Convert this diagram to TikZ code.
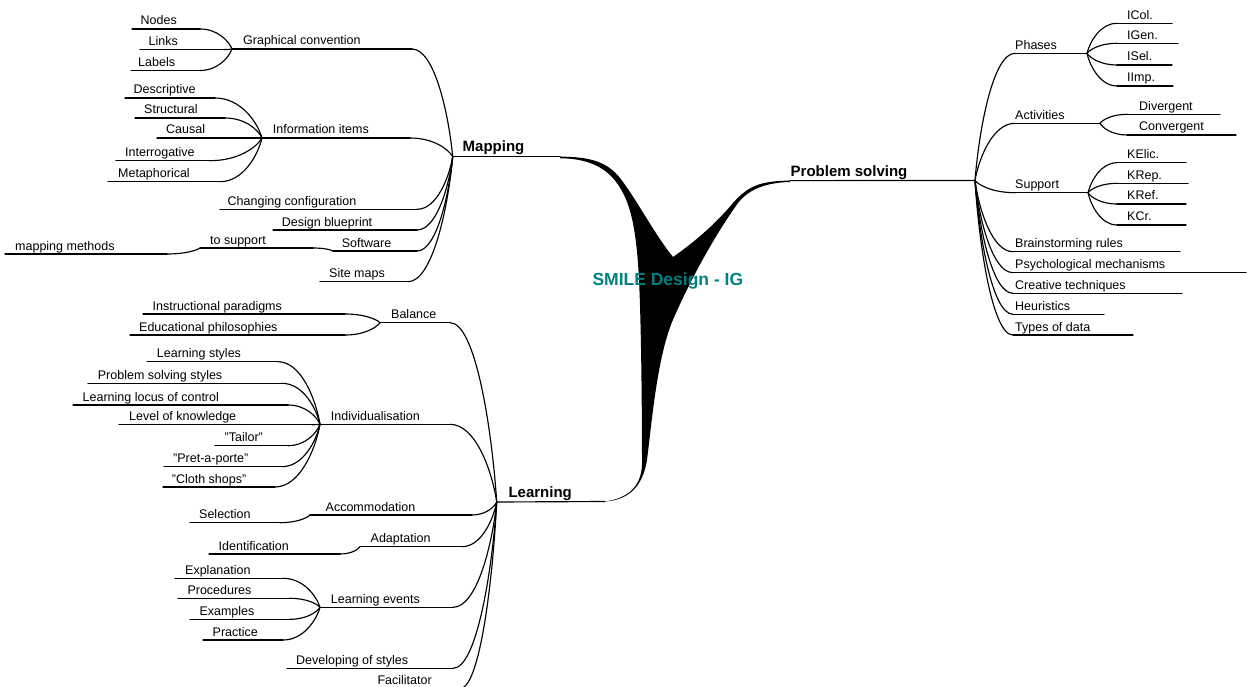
\documentclass[tikz,border=0pt]{standalone}
\usepackage{fontspec}
\setmainfont{Liberation Sans}
\usetikzlibrary{calc}
\definecolor{mmteal}{RGB}{0,128,128}

% one branch item: name, left x, right x, line y, text x, label
\newcommand{\mmleaf}[6]{%
  \coordinate (#1-l) at (#2,#4);
  \coordinate (#1-r) at (#3,#4);
  \draw[rule] (#1-l) -- (#1-r);
  \node[leaf] (#1) at (#5,#4-4) {#6};}

\tikzset{
  rule/.style={line width=1.15pt, line cap=round},
  leaf/.style={font=\fontsize{12.5}{15}\selectfont, inner sep=0pt, anchor=base west},
  topic/.style={font=\fontsize{15}{18}\selectfont\bfseries, inner sep=0pt, anchor=base west},
  centre/.style={font=\fontsize{17.5}{20}\selectfont\bfseries, text=mmteal, inner sep=0pt, anchor=base west},
  link/.style={rule, to path={let \p1=(\tikztostart), \p2=(\tikztotarget) in
    .. controls ({\x1+0.1*(\x2-\x1)},{\y1+0.4*(\y2-\y1)}) and ({\x2-0.55*(\x2-\x1)},\y2) .. (\tikztotarget)}}
}

\begin{document}
\begin{tikzpicture}[x=1pt,y=-1pt]
\useasboundingbox (0,0) rectangle (1247,687);

% ---------- trunk ----------
\coordinate (mapJ) at (452.7,156.7);
\coordinate (mapE) at (560,156.7);
\coordinate (learnJ) at (496.7,502);
\coordinate (learnE) at (605,501.5);
\coordinate (psJ) at (975,180.5);
\coordinate (psE) at (790,180.6);

\fill[black] (mapE) .. controls (592,156.5) and (608,163) .. (620,178)
  .. controls (637,200) and (655,235) .. (673,257)
  .. controls (690,245) and (712,228) .. (733,203)
  .. controls (748,186) and (760,181) .. (psE)
  -- (790,182)
  .. controls (765,182.5) and (748,190) .. (738,203)
  .. controls (715,235) and (690,280) .. (672,322)
  .. controls (657,360) and (652,420) .. (647,460)
  .. controls (643,485) and (630,500) .. (learnE)
  .. controls (630,498) and (641,485) .. (642,465)
  .. controls (642,400) and (641,320) .. (639,280)
  .. controls (637,240) and (633,215) .. (625,197)
  .. controls (614,173) and (596,158.5) .. (560,158.3) -- cycle;

\draw[rule] (mapJ) -- (mapE);
\draw[rule] (learnJ) -- (learnE);
\draw[rule] (psE) -- (psJ);

\node[topic] (mapping) at (462.5,152) {Mapping};
\node[topic] (learning) at (508.3,497.5) {Learning};
\node[topic] (problem) at (790.5,176.5) {Problem solving};
\node[centre] (title) at (592.3,285) {SMILE Design - IG};

% ---------- Mapping ----------
\mmleaf{gc}{232}{412}{49}{243}{Graphical convention}
\mmleaf{nodes}{132}{200}{29}{140.5}{Nodes}
\mmleaf{links}{140}{224}{49.5}{148.5}{Links}
\mmleaf{labels}{131}{200}{70.5}{138}{Labels}
\mmleaf{ii}{262}{410}{138}{272.7}{Information items}
\mmleaf{desc}{125}{215}{98}{133.5}{Descriptive}
\mmleaf{struct}{135}{225}{118}{144}{Structural}
\mmleaf{causal}{157}{254}{138}{166}{Causal}
\mmleaf{interr}{116}{210}{160.7}{125}{Interrogative}
\mmleaf{meta}{108}{220}{181.7}{118}{Metaphorical}
\mmleaf{cc}{220}{417}{209.3}{227.5}{Changing configuration}
\mmleaf{db}{273}{417}{230}{281.7}{Design blueprint}
\mmleaf{sw}{333}{417}{251}{341.7}{Software}
\mmleaf{ts}{200}{313}{248}{210}{to support}
\mmleaf{mm}{5}{167}{254}{15}{mapping methods}
\mmleaf{sm}{320}{408}{281.7}{329}{Site maps}

\foreach \c in {gc,ii,cc,db,sw,sm} \draw[link] (mapJ) to (\c-r);
\foreach \c in {nodes,links,labels} \draw[link] (gc-l) to (\c-r);
\foreach \c in {desc,struct,causal,interr,meta} \draw[link] (ii-l) to (\c-r);
\draw[link] (sw-l) to (ts-r);
\draw[link] (ts-l) to (mm-r);

% ---------- Learning ----------
\mmleaf{bal}{380}{450}{322.7}{391}{Balance}
\mmleaf{ip}{143}{345}{314}{152.5}{Instructional paradigms}
\mmleaf{ep}{130}{345}{335}{139}{Educational philosophies}
\mmleaf{ind}{320}{450}{424.3}{330.7}{Individualisation}
\mmleaf{ls}{147}{278}{361.7}{156.7}{Learning styles}
\mmleaf{pss}{88}{282}{383.3}{97.7}{Problem solving styles}
\mmleaf{llc}{73}{288}{405}{82.5}{Learning locus of control}
\mmleaf{lk}{119}{312}{424.7}{129}{Level of knowledge}
\mmleaf{tailor}{215}{288}{445.7}{224.5}{"Tailor"}
\mmleaf{pap}{164}{282}{466.7}{173}{"Pret-a-porte"}
\mmleaf{cs}{163}{275}{487}{171.7}{"Cloth shops"}
\mmleaf{acc}{310}{472}{515}{325.5}{Accommodation}
\mmleaf{sel}{190}{280}{522.7}{199}{Selection}
\mmleaf{adp}{360}{462}{546.7}{370.5}{Adaptation}
\mmleaf{idn}{209}{340}{554}{218.5}{Identification}
\mmleaf{le}{320}{453}{607.3}{330.7}{Learning events}
\mmleaf{exl}{175}{283}{578.3}{185}{Explanation}
\mmleaf{proc}{178}{290}{598.3}{187.3}{Procedures}
\mmleaf{exm}{190}{290}{619.3}{199.3}{Examples}
\mmleaf{prac}{203}{283}{640}{212.5}{Practice}
\mmleaf{dev}{287}{453}{668.3}{296}{Developing of styles}
\mmleaf{fac}{365}{460}{688.5}{377.3}{Facilitator}

\foreach \c in {bal,ind,acc,adp,le,dev,fac} \draw[link] (learnJ) to (\c-r);
\foreach \c in {ip,ep} \draw[link] (bal-l) to (\c-r);
\foreach \c in {ls,pss,llc,lk,tailor,pap,cs} \draw[link] (ind-l) to (\c-r);
\draw[link] (acc-l) to (sel-r);
\draw[link] (adp-l) to (idn-r);
\foreach \c in {exl,proc,exm,prac} \draw[link] (le-l) to (\c-r);

% ---------- Problem solving ----------
\mmleaf{ph}{1015}{1087}{53.3}{1015}{Phases}
\mmleaf{icol}{1117}{1172}{23.3}{1127}{ICol.}
\mmleaf{igen}{1117}{1178}{43.3}{1127}{IGen.}
\mmleaf{isel}{1117}{1172}{65}{1127}{ISel.}
\mmleaf{iimp}{1117}{1173}{86}{1127}{IImp.}
\mmleaf{act}{1015}{1100}{123.3}{1015}{Activities}
\mmleaf{div}{1127}{1220}{114.3}{1139}{Divergent}
\mmleaf{conv}{1127}{1236}{135}{1139}{Convergent}
\mmleaf{sup}{1015}{1088}{192.7}{1015}{Support}
\mmleaf{kelic}{1117}{1186}{162.7}{1127}{KElic.}
\mmleaf{krep}{1117}{1188}{183.3}{1127}{KRep.}
\mmleaf{kref}{1117}{1186}{204}{1127}{KRef.}
\mmleaf{kcr}{1117}{1186}{225}{1127}{KCr.}
\mmleaf{br}{1013}{1180}{251.7}{1015}{Brainstorming rules}
\mmleaf{psy}{1013}{1246}{272.7}{1015}{Psychological mechanisms}
\mmleaf{ct}{1013}{1182}{293.3}{1015}{Creative techniques}
\mmleaf{heu}{1013}{1104}{314.3}{1015}{Heuristics}
\mmleaf{tod}{1013}{1133}{335}{1015}{Types of data}

\foreach \c in {ph,act,sup,br,psy,ct,heu,tod} \draw[link] (psJ) to (\c-l);
\foreach \c in {icol,igen,isel,iimp} \draw[link] (ph-r) to (\c-l);
\foreach \c in {div,conv} \draw[link] (act-r) to (\c-l);
\foreach \c in {kelic,krep,kref,kcr} \draw[link] (sup-r) to (\c-l);
\end{tikzpicture}
\end{document}
